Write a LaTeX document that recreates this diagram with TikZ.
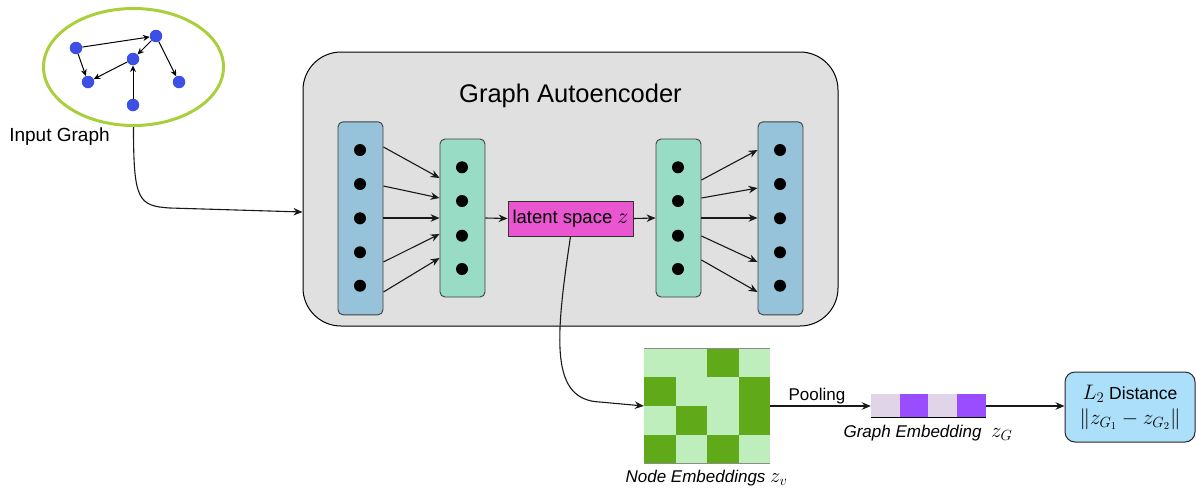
\RequirePackage{fix-cm}
\documentclass[tikz,border=0pt]{standalone}
\usepackage[no-math]{fontspec}
\setmainfont{Liberation Sans}
\usetikzlibrary{arrows.meta,calc,shapes.geometric}

\definecolor{aebg}{HTML}{E0E0E0}
\definecolor{inlayer}{HTML}{96C3D9}
\definecolor{hidlayer}{HTML}{98DCC6}
\definecolor{latentc}{HTML}{EA55D0}
\definecolor{ringgreen}{HTML}{AACF3C}
\definecolor{gnode}{HTML}{3D50E6}
\definecolor{celllight}{HTML}{BEEEBB}
\definecolor{celldark}{HTML}{60A918}
\definecolor{barlight}{HTML}{E0D5E8}
\definecolor{barpurple}{HTML}{9A4DFF}
\definecolor{distbg}{HTML}{ABDFFA}

% math set a little larger than the surrounding sans text
\newcommand{\bigmath}[2]{{\fontsize{#1}{#1}\selectfont$#2$}}

\begin{document}
\begin{tikzpicture}[x=1pt,y=-1pt,
  conn/.style={draw=black!90, line width=1.1pt, -{Stealth[length=9pt,width=7.5pt]}},
  smallarrow/.style={line width=1pt, -{Stealth[length=6.5pt,width=6pt]}},
  layerbox/.style={draw=black!75, line width=0.9pt, rounded corners=5pt, inner sep=0, minimum width=45pt},
  gnodestyle/.style={circle, fill=gnode, inner sep=0, minimum size=12.5pt},
  lbl/.style={inner sep=0, font=\fontsize{17}{20}\selectfont},
]
\useasboundingbox (0,0) rectangle (1196,488);

% ---------- input graph ----------
\node[ellipse, draw=ringgreen, line width=3pt, inner sep=0,
      minimum width=180pt, minimum height=117pt] (ring) at (133.5,67) {};
\node[gnodestyle] (ga) at (76,48) {};
\node[gnodestyle] (gb) at (156,36) {};
\node[gnodestyle] (gc) at (133,59) {};
\node[gnodestyle] (gd) at (88,82) {};
\node[gnodestyle] (ge) at (179,82) {};
\node[gnodestyle] (gf) at (133,105) {};
\draw[smallarrow] (ga) -- (gb);
\draw[smallarrow] (gb) -- (gc);
\draw[smallarrow] (ga) -- (gd);
\draw[smallarrow] (gc) -- (gd);
\draw[smallarrow] (gb) -- (ge);
\draw[smallarrow] (gf) -- (gc);
\node[inner sep=0, font=\fontsize{19}{22}\selectfont] (inlabel) at (59.5,137) {Input Graph};

% ---------- autoencoder ----------
\node[draw=black, line width=1pt, fill=aebg, rounded corners=38pt, inner sep=0,
      minimum width=535pt, minimum height=274pt] (ae) at (570.5,189) {};
\node[inner sep=0, font=\fontsize{25.5}{28}\selectfont] (aetitle) at (570.5,96) {Graph Autoencoder};

\node[layerbox, fill=inlayer,  minimum height=193pt] (l1) at (360.5,218.3) {};
\node[layerbox, fill=hidlayer, minimum height=158pt] (l2) at (462.5,218) {};
\node[layerbox, fill=hidlayer, minimum height=158pt] (l3) at (678.5,218) {};
\node[layerbox, fill=inlayer,  minimum height=193pt] (l4) at (780.5,218.3) {};

\foreach \y in {150,184,218.3,252.3,285.7} {
  \fill (360,\y) circle (6pt);
  \fill (780,\y) circle (6pt);
}
\foreach \y in {167.3,201,235.7,269} {
  \fill (462,\y) circle (6pt);
  \fill (678,\y) circle (6pt);
}

\node[draw=black!80, line width=0.9pt, fill=latentc, inner sep=0,
      minimum width=125pt, minimum height=35pt,
      font=\fontsize{18.5}{21}\selectfont] (lat) at (570.5,218.5) {latent space \bigmath{22}{z}};

\foreach \ya/\yb in {147/178,186/198,218/218,262/234,292/258}
  \draw[conn] (l1.east |- 0,\ya) -- (l2.west |- 0,\yb);
\foreach \ya/\yb in {180/150,198/188,218/218,236/262,260/292}
  \draw[conn] (l3.east |- 0,\ya) -- (l4.west |- 0,\yb);
\draw[conn] (l2.east) -- (lat.west);
\draw[conn] (lat.east) -- (l3.west);

\draw[conn] (ring.south) .. controls (133.5,200) and (138,206) .. (170,208) -- (ae.west |- 0,212);

% ---------- node embeddings matrix ----------
\node[inner sep=0, minimum width=126pt, minimum height=115pt] (mat) at (707,405.5) {};
\fill[celllight] (644,348) rectangle (770,463);
\foreach \xa/\xb/\ya/\yb in {707/739/348/377, 644/676/377/406, 739/770/377/406,
                           676/707/406/435, 739/770/406/435, 644/676/435/463, 707/739/435/463}
  \fill[celldark] (\xa,\ya) rectangle (\xb,\yb);
\draw[black!45, line width=0.8pt] (644,348) -- (770,348);
\draw[black!45, line width=0.8pt] (644,463) -- (770,463);
\node[lbl] (matlabel) at (706.5,478) {\textit{Node Embeddings} \bigmath{20.5}{z_v}};

\draw[conn] (lat.south) .. controls (555,340) and (550,400) .. (600,402) -- (mat.west |- 0,406);

% ---------- graph embedding ----------
\node[inner sep=0, minimum width=115pt, minimum height=23pt] (bar) at (928.5,405.5) {};
\fill[barlight]  (871,394) rectangle (900,417);
\fill[barpurple] (900,394) rectangle (928,417);
\fill[barlight]  (928,394) rectangle (957,417);
\fill[barpurple] (957,394) rectangle (986,417);
\draw[black, line width=1pt] (871,417) -- (986,417);
\node[lbl] (barlabel) at (928,433) {\textit{Graph Embedding}\ \ \bigmath{21}{z_G}};

\draw[conn] (mat.east |- 0,406) -- (bar.west |- 0,406);
\node[lbl] (pool) at (817,396) {Pooling};

% ---------- distance ----------
\node[draw=black!85, line width=1pt, fill=distbg, rounded corners=10pt, inner sep=0,
      minimum width=130pt, minimum height=70pt, align=center,
      font=\fontsize{17.5}{22}\selectfont] (dist) at (1130,407)
      {\bigmath{21}{L_2} Distance\\[3pt]\bigmath{21}{\|z_{G_1}-z_{G_2}\|}};
\draw[conn] (bar.east |- 0,406) -- (dist.west |- 0,406);
\end{tikzpicture}
\end{document}
